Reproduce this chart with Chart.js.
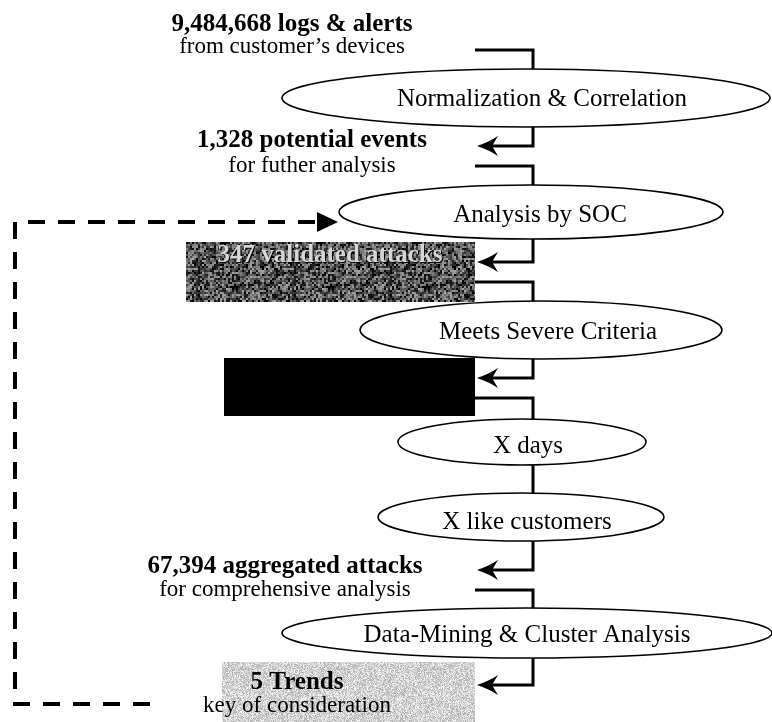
<!DOCTYPE html>
<html>
<head>
<meta charset="utf-8">
<script src="https://cdn.jsdelivr.net/npm/chart.js"></script>
<style>
html, body { margin: 0; padding: 0; background: #fff; }
#wrap { width: 772px; height: 722px; }
</style>
</head>
<body>
<div id="wrap"><canvas id="chart" width="772" height="722"></canvas></div>
<script>
// process steps (the ellipses), top to bottom
const stages = ["Normalization & Correlation", "Analysis by SOC", "Meets Severe Criteria",
                "X days", "X like customers", "Data-Mining & Cluster Analysis"];
// what goes into step k (index k) and what comes out at the end (last index)
const counts = [9484668, 1328, 347, null, null, 67394, 5];
const countText = ["logs & alerts", "potential events", "validated attacks", "", "", "aggregated attacks", "Trends"];
const notes = ["from customer\u2019s devices", "for futher analysis", "", "", "", "for comprehensive analysis", "key of consideration"];

// layout (data units = pixels of the 772x722 sheet)
const nodeCx = [526, 531, 541, 522, 521, 527];
const nodeCy = [98, 212, 330, 442, 517, 633];
const nodeRx = [244, 192, 181, 124, 143, 245];
const nodeRy = [29, 27, 29, 23, 24, 25];
const nodeTx = [542, 540, 548, 528, 527, 527];
const nodeTy = [99, 215, 332, 446, 522, 635];
const outKind = ["plain", "plain", "dark", "black", "none", "plain", "light"];
const outCx = [292, 312, 330, 350, 0, 285, 297];
const outY1 = [25, 141, 256, 0, 0, 567, 683];
const outY2 = [47, 166, 0, 0, 0, 590, 706];
const arrowY = [null, 146, 262, 378, null, 570, 685];
const linkY = [50, 166, 282, 398, null, 590, null];
const boxes = { dark: [186, 242, 475, 302], black: [224, 358, 475, 416], light: [222, 662, 475, 722] };
const spineX = 533, stubX = 475, tipX = 477;
const loopPath = [[150, 704], [15, 704], [15, 222], [317, 222]];
const loopTip = 338;

// scanned-paper grain for the shaded boxes
function grain(i, j) {
  let h = (Math.imul(i, 374761393) + Math.imul(j, 668265263)) | 0;
  h = Math.imul(h ^ (h >>> 13), 1274126177);
  h ^= h >>> 16;
  return (h >>> 0) / 4294967296;
}
function speckle(base, spread, cell) {
  const c = document.createElement("canvas");
  c.width = c.height = 96;
  const g = c.getContext("2d");
  for (let j = 0; j < 96; j += cell) {
    for (let i = 0; i < 96; i += cell) {
      const v = Math.round(Math.max(0, Math.min(255, base + (grain(i + 3, j + 7) - 0.5) * spread)));
      g.fillStyle = "rgb(" + v + "," + v + "," + v + ")";
      g.fillRect(i, j, cell, cell);
    }
  }
  return c;
}

const flow = {
  id: "flow",
  afterDatasetsDraw(chart) {
    const { ctx, scales: { x, y } } = chart;
    const px = v => x.getPixelForValue(v);
    const py = v => y.getPixelForValue(v);
    const pts = chart.getDatasetMeta(0).data;
    const fmt = n => n.toLocaleString("en-US");

    function edgeY(i, top) {
      const dx = (spineX - nodeCx[i]) / nodeRx[i];
      const dy = nodeRy[i] * Math.sqrt(1 - dx * dx);
      return top ? nodeCy[i] - dy : nodeCy[i] + dy;
    }
    function arrowLeft(tx, ty) {
      ctx.beginPath();
      ctx.moveTo(tx, ty);
      ctx.quadraticCurveTo(tx + 12, ty - 4, tx + 21, ty - 10);
      ctx.lineTo(tx + 15, ty);
      ctx.lineTo(tx + 21, ty + 10);
      ctx.quadraticCurveTo(tx + 12, ty + 4, tx, ty);
      ctx.closePath();
      ctx.fill();
    }
    function box(b) {
      ctx.fillRect(px(b[0]), py(b[1]), px(b[2]) - px(b[0]), py(b[3]) - py(b[1]));
    }

    ctx.save();
    // boxes
    ctx.fillStyle = ctx.createPattern(speckle(82, 170, 2), "repeat");
    box(boxes.dark);
    ctx.fillStyle = "#000";
    box(boxes.black);
    ctx.fillStyle = ctx.createPattern(speckle(210, 80, 1), "repeat");
    box(boxes.light);

    // connectors
    ctx.strokeStyle = "#000";
    ctx.fillStyle = "#000";
    ctx.lineWidth = 3;
    ctx.lineJoin = "miter";
    for (let k = 0; k < counts.length; k++) {
      if (arrowY[k] != null) {
        ctx.beginPath();
        ctx.moveTo(px(spineX), py(edgeY(k - 1, false)));
        ctx.lineTo(px(spineX), py(arrowY[k]));
        ctx.lineTo(px(tipX) + 15, py(arrowY[k]));
        ctx.stroke();
        arrowLeft(px(tipX), py(arrowY[k]));
      }
      if (linkY[k] != null) {
        ctx.beginPath();
        ctx.moveTo(px(stubX), py(linkY[k]));
        ctx.lineTo(px(spineX), py(linkY[k]));
        ctx.lineTo(px(spineX), py(edgeY(k, true)));
        ctx.stroke();
      }
      if (outKind[k] === "none") {
        ctx.beginPath();
        ctx.moveTo(px(spineX), py(edgeY(k - 1, false)));
        ctx.lineTo(px(spineX), py(edgeY(k, true)));
        ctx.stroke();
      }
    }

    // feedback loop
    ctx.lineWidth = 4;
    ctx.setLineDash([17, 13]);
    ctx.beginPath();
    loopPath.forEach((p, i) => i ? ctx.lineTo(px(p[0]), py(p[1])) : ctx.moveTo(px(p[0]), py(p[1])));
    ctx.stroke();
    ctx.setLineDash([]);
    const last = loopPath[loopPath.length - 1];
    ctx.beginPath();
    ctx.moveTo(px(loopTip), py(last[1]));
    ctx.lineTo(px(last[0]), py(last[1]) - 10);
    ctx.lineTo(px(last[0]), py(last[1]) + 10);
    ctx.closePath();
    ctx.fill();

    // stages
    ctx.lineWidth = 1.6;
    ctx.textAlign = "center";
    ctx.textBaseline = "middle";
    stages.forEach((s, i) => {
      const p = pts[i];
      ctx.beginPath();
      ctx.ellipse(p.x, p.y, px(nodeCx[i] + nodeRx[i]) - p.x, py(nodeCy[i] + nodeRy[i]) - p.y, 0, 0, Math.PI * 2);
      ctx.fillStyle = "#fff";
      ctx.fill();
      ctx.stroke();
      ctx.fillStyle = "#000";
      ctx.font = "25px 'Liberation Serif', 'Times New Roman', serif";
      ctx.fillText(s, px(nodeTx[i]), py(nodeTy[i]));
    });

    // counts and notes
    counts.forEach((n, k) => {
      if (n == null) return;
      const head = fmt(n) + " " + countText[k];
      ctx.font = "bold 25px 'Liberation Serif', 'Times New Roman', serif";
      if (outKind[k] === "dark") {
        ctx.fillStyle = "#000";
        ctx.fillText(head, px(outCx[k]) + 1, py(outY1[k]) + 1);
        ctx.fillStyle = "#d6d6d6";
      } else {
        ctx.fillStyle = "#000";
      }
      ctx.fillText(head, px(outCx[k]), py(outY1[k]));
      if (notes[k]) {
        ctx.fillStyle = "#000";
        ctx.font = "23px 'Liberation Serif', 'Times New Roman', serif";
        ctx.fillText(notes[k], px(outCx[k]), py(outY2[k]));
      }
    });
    ctx.restore();
  }
};

new Chart(document.getElementById("chart"), {
  type: "scatter",
  data: {
    datasets: [{
      data: stages.map((s, i) => ({ x: nodeCx[i], y: nodeCy[i] })),
      pointRadius: 0
    }]
  },
  options: {
    responsive: false,
    animation: false,
    devicePixelRatio: 1,
    layout: { padding: 0 },
    scales: {
      x: { type: "linear", min: 0, max: 772, display: false },
      y: { type: "linear", min: 0, max: 722, reverse: true, display: false }
    },
    plugins: { legend: { display: false }, tooltip: { enabled: false } }
  },
  plugins: [flow]
});
</script>
</body>
</html>
